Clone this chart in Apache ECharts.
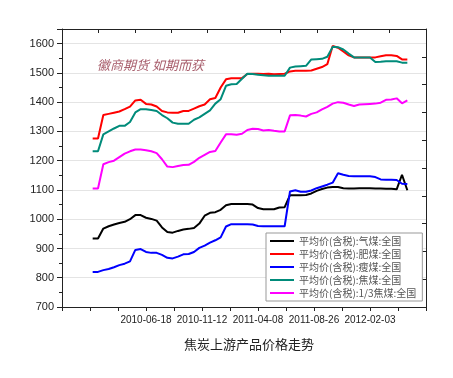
<!DOCTYPE html>
<html>
<head>
<meta charset="utf-8">
<script src="https://cdn.jsdelivr.net/npm/echarts@6/dist/echarts.min.js"></script>
<style>
  html, body { margin: 0; padding: 0; background: #fff; }
  #chart { width: 453px; height: 378px; }
</style>
</head>
<body>
<div id="chart"></div>
<script>
// 周序号（每隔一周取一个点）
const weekIdx = Array.from({ length: 60 }, (_, i) => i * 2);

// x轴标签及其所在的周序号
const xTickLabels = ['2010-06-18', '2010-11-12', '2011-04-08', '2011-08-26', '2012-02-03'];
const xTickWeeks = [20, 41, 62, 83, 104];

const seriesNames = [
  '平均价(含税):气煤:全国',
  '平均价(含税):肥煤:全国',
  '平均价(含税):瘦煤:全国',
  '平均价(含税):焦煤:全国',
  '平均价(含税):1/3焦煤:全国'
];
const seriesColors = ['#000000', '#ff0000', '#0000ff', '#008b7a', '#ff00ff'];

const qiMei = [
  934, 934, 968, 976, 982, 987, 991, 1000, 1014, 1014,
  1005, 1001, 995, 972, 956, 954, 960, 965, 967, 970,
  985, 1012, 1022, 1024, 1032, 1048, 1052, 1052, 1052, 1052,
  1050, 1038, 1034, 1034, 1034, 1040, 1041, 1082, 1082, 1082,
  1083, 1088, 1097, 1103, 1108, 1110, 1110, 1106, 1105, 1105,
  1106, 1106, 1106, 1105, 1105, 1104, 1104, 1102, 1152, 1099
];
const feiMei = [
  1276, 1276, 1356, 1360, 1364, 1368, 1376, 1385, 1406, 1408,
  1394, 1392, 1385, 1370, 1365, 1364, 1364, 1370, 1370, 1378,
  1386, 1392, 1410, 1414, 1450, 1478, 1482, 1482, 1482, 1496,
  1497, 1497, 1496, 1497, 1495, 1496, 1497, 1505, 1507, 1507,
  1507, 1508, 1514, 1520, 1530, 1592, 1586, 1573, 1560, 1553,
  1553, 1553, 1553, 1553, 1557, 1560, 1560, 1558, 1546, 1546
];
const shouMei = [
  820, 820, 826, 830, 836, 843, 848, 856, 895, 898,
  888, 885, 885, 878, 868, 866, 872, 880, 881, 888,
  902, 910, 920, 928, 938, 975, 983, 983, 983, 983,
  982, 977, 976, 976, 976, 976, 976, 1095, 1099, 1094,
  1094, 1098, 1106, 1112, 1118, 1125, 1157, 1152, 1148, 1147,
  1147, 1147, 1147, 1144, 1136, 1135, 1135, 1134, 1121, 1120
];
const jiaoMei = [
  1232, 1232, 1290, 1300, 1310, 1319, 1319, 1332, 1365, 1376,
  1376, 1373, 1370, 1356, 1345, 1330, 1326, 1326, 1326, 1340,
  1348, 1360, 1372, 1395, 1410, 1456, 1461, 1462, 1480, 1497,
  1496, 1494, 1492, 1490, 1490, 1490, 1490, 1518, 1522, 1523,
  1524, 1546, 1547, 1548, 1555, 1589, 1588, 1580, 1566, 1553,
  1553, 1553, 1553, 1537, 1538, 1540, 1540, 1540, 1535, 1535
];
const sanFenJiao = [
  1105, 1105, 1188, 1195, 1200, 1212, 1224, 1232, 1238, 1238,
  1236, 1232, 1226, 1205, 1180, 1178, 1182, 1185, 1186, 1196,
  1210, 1220, 1230, 1233, 1262, 1290, 1290, 1289, 1292, 1305,
  1309, 1308, 1303, 1305, 1302, 1300, 1300, 1355, 1356, 1354,
  1351, 1360, 1365, 1375, 1384, 1395, 1400, 1398, 1392, 1387,
  1392, 1393, 1394, 1395, 1398, 1408, 1409, 1413, 1396, 1406
];
const allValues = [qiMei, feiMei, shouMei, jiaoMei, sanFenJiao];

const chart = echarts.init(document.getElementById('chart'), null, { renderer: 'canvas' });

const option = {
  animation: false,
  backgroundColor: '#fff',
  title: [{
    text: '焦炭上游产品价格走势',
    left: 244,
    top: 333,
    textAlign: 'center',
    textStyle: { fontFamily: 'Noto Sans CJK SC', fontSize: 13, fontWeight: 'normal', color: '#222' }
  }, {
    text: '徽商期货 如期而获',
    left: 92,
    top: 54,
    textStyle: { fontFamily: 'Noto Sans CJK SC', fontSize: 13, fontStyle: 'italic', fontWeight: 'normal', color: '#a85e6c' }
  }],
  legend: {
    orient: 'vertical',
    left: 266,
    top: 233,
    padding: [3, 6, 3, 4],
    itemGap: 3,
    itemWidth: 24,
    itemHeight: 2,
    icon: 'rect',
    backgroundColor: '#fff',
    borderColor: '#999',
    borderWidth: 1,
    borderRadius: 0,
    textStyle: { fontFamily: 'Noto Sans CJK SC', fontSize: 10, lineHeight: 10, color: '#555' },
    data: seriesNames
  },
  grid: { left: 62, top: 29, right: 27, bottom: 71, containLabel: false },
  xAxis: [{
    type: 'value',
    position: 'bottom',
    min: -11.5,
    max: 125,
    interval: 10.5,
    axisLine: { onZero: false, lineStyle: { color: '#222', width: 1 } },
    axisTick: { inside: false, length: 4, lineStyle: { color: '#222' } },
    splitLine: { show: false },
    axisLabel: {
      margin: 8,
      fontFamily: 'Liberation Sans',
      fontSize: 10,
      color: '#222',
      showMinLabel: true,
      showMaxLabel: true,
      formatter: function (v) {
        for (let i = 0; i < xTickWeeks.length; i++) {
          if (Math.abs(v - xTickWeeks[i]) < 0.01) return xTickLabels[i];
        }
        return '';
      }
    }
  }, {
    type: 'value',
    position: 'top',
    min: 0,
    max: 10,
    interval: 1,
    axisLine: { onZero: false, lineStyle: { color: '#222', width: 1 } },
    axisTick: { inside: true, length: 4, lineStyle: { color: '#222' } },
    axisLabel: { show: false },
    splitLine: { show: false }
  }],
  yAxis: [{
    type: 'value',
    position: 'left',
    min: 700,
    max: 1650,
    interval: 100,
    axisLine: { show: true, onZero: false, lineStyle: { color: '#222', width: 1 } },
    axisTick: { show: true, inside: false, length: 5, lineStyle: { color: '#222' } },
    minorTick: { show: true, splitNumber: 2, length: 3, lineStyle: { color: '#222' } },
    splitLine: { show: true, lineStyle: { color: '#e4e4e4', width: 1 } },
    axisLabel: {
      margin: 8,
      fontFamily: 'Liberation Sans',
      fontSize: 11,
      color: '#222',
      showMaxLabel: false,
      formatter: function (v) { return String(v); }
    }
  }, {
    type: 'value',
    position: 'right',
    min: 0,
    max: 10,
    interval: 1,
    axisLine: { show: true, onZero: false, lineStyle: { color: '#222', width: 1 } },
    axisTick: { show: true, inside: true, length: 4, lineStyle: { color: '#222' } },
    axisLabel: { show: false },
    splitLine: { show: false }
  }],
  series: seriesNames.map((name, k) => ({
    name: name,
    type: 'line',
    xAxisIndex: 0,
    yAxisIndex: 0,
    showSymbol: false,
    symbol: 'none',
    color: seriesColors[k],
    lineStyle: { width: 2, color: seriesColors[k] },
    data: weekIdx.map((w, i) => [w, allValues[k][i]])
  }))
};

chart.setOption(option);
</script>
</body>
</html>
